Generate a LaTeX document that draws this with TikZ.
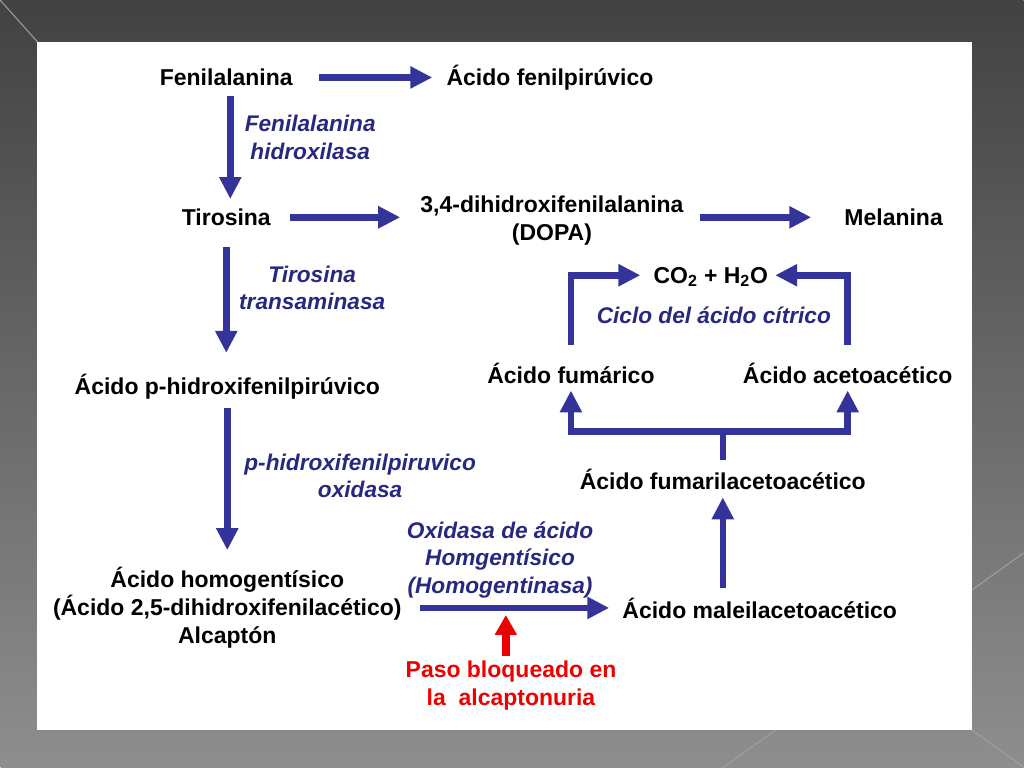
\documentclass[tikz,border=0pt]{standalone}
\usepackage{fontspec}
\setmainfont{Liberation Sans}
\usepackage{tikz}
\usetikzlibrary{arrows.meta}
\definecolor{azulFlecha}{RGB}{51,51,153}
\definecolor{azulTexto}{RGB}{40,40,128}
\definecolor{rojoPaso}{RGB}{236,0,0}
\definecolor{fondoArriba}{RGB}{66,66,66}
\definecolor{fondoAbajo}{RGB}{142,142,142}
\definecolor{rayaFondo}{RGB}{160,160,160}

\begin{document}
\begin{tikzpicture}[x=0.75pt,y=0.75pt,yscale=-1,xscale=1,
    quimico/.style={inner sep=0pt,align=center,font=\fontsize{17.25}{21}\selectfont\bfseries},
    linea/.style={inner sep=0pt,font=\fontsize{17.25}{21}\selectfont\bfseries,text height=16pt,text depth=3.6pt},
    enzima/.style={inner sep=0pt,align=center,text=azulTexto,font=\fontsize{17}{20.5}\selectfont\bfseries\itshape},
    flecha/.style={draw=azulFlecha,line width=4.9pt,-{Triangle[length=16.5pt,width=15.75pt]}},
    bloqueo/.style={draw=rojoPaso,line width=5.5pt,-{Triangle[length=15pt,width=15.75pt]}}]

%Shape: Rectangle (fondo)
\shade [top color=fondoArriba,bottom color=fondoAbajo] (0,0) rectangle (1024,768);
%Straight Lines (rayas del fondo)
\draw [rayaFondo,line width=0.75] (0,0) -- (50,56);
\draw [rayaFondo,line width=0.75] (960,599) -- (1024,553);
\draw [rayaFondo,line width=0.75] (783,725) -- (723,768);
\draw [rayaFondo,line width=0.75] (965,725) -- (1024,767);
%Shape: Rectangle (hoja)
\fill [white] (37,42) rectangle (972,730);

% Text Node
\draw (226,77) node [linea] (fen) {Fenilalanina};
% Text Node
\draw (550,77) node [linea] (afp) {Ácido fenilpirúvico};
% Text Node
\draw (310,137) node [enzima] (fhid) {Fenilalanina\\hidroxilasa};
% Text Node
\draw (226,217) node [linea] (tir) {Tirosina};
% Text Node
\draw (552,220) node [quimico] (dopa) {3,4-dihidroxifenilalanina\\(DOPA)};
% Text Node
\draw (894,217) node [linea] (mel) {Melanina};
% Text Node
\draw (312,288) node [enzima] (ttra) {Tirosina\\transaminasa};
% Text Node
\draw (227,386) node [linea] (php) {Ácido p-hidroxifenilpirúvico};
% Text Node
\draw (360,476) node [enzima] (phox) {p-hidroxifenilpiruvico\\oxidasa};
% Text Node
\draw (227,608) node [quimico] (homog) {Ácido homogentísico\\(Ácido 2,5-dihidroxifenilacético)\\Alcaptón};
% Text Node
\draw (500,560) node [enzima] (oxh) {Oxidasa de ácido\\Homgentísico\\(Homogentinasa)};
% Text Node
\draw (760,610) node [linea] (malei) {Ácido maleilacetoacético};
% Text Node
\draw (511,686) node [quimico,text=rojoPaso] (paso) {Paso bloqueado en\\la\ \ alcaptonuria};
% Text Node
\draw (723,481) node [linea] (fumaril) {Ácido fumarilacetoacético};
% Text Node
\draw (571,375) node [linea] (fum) {Ácido fumárico};
% Text Node
\draw (848,375) node [linea] (aceto) {Ácido acetoacético};
% Text Node
\draw (711,275) node [linea] (co2) {CO\textsubscript{2} + H\textsubscript{2}O};
% Text Node
\draw (714,315) node [enzima] (ciclo) {Ciclo del ácido cítrico};

%Straight Lines
\draw [flecha,shorten <=19.5pt,shorten >=10.5pt] (fen.east) -- (fen.east -| afp.west);
%Straight Lines
\draw [flecha,shorten <=3.75pt,shorten >=3.75pt] ([xshift=3pt]fen.south) -- ([xshift=3pt]fen.south |- tir.north);
%Straight Lines
\draw [flecha,shorten <=14.25pt,shorten >=15pt] (tir.east) -- (tir.east -| dopa.west);
%Straight Lines
\draw [flecha,shorten <=12pt,shorten >=24.75pt] (dopa.east |- mel.west) -- (mel.west);
%Straight Lines
\draw [flecha,shorten <=12pt,shorten >=15pt] (tir.south) -- (tir.south |- php.north);
%Straight Lines
\draw [flecha,shorten <=6.75pt,shorten >=12.75pt] (php.south) -- (php.south |- homog.north);
%Straight Lines
\draw [flecha,shorten <=13.5pt,shorten >=9.75pt] (homog.east) -- coordinate[pos=0.472] (corte) (homog.east -| malei.west);
%Straight Lines
\draw [bloqueo,shorten <=3.4pt,shorten >=5.25pt] (paso.north -| corte) -- (corte);
%Straight Lines
\draw [flecha,shorten <=6.75pt,shorten >=2.25pt] (malei.north -| fumaril.south) -- (fumaril.south);
%Straight Lines
\draw [flecha,shorten <=6pt,shorten >=1.5pt] (fumaril.north) -- ++(0,-36) -| (fum.south);
\draw [flecha,shorten <=6pt,shorten >=1.5pt] (fumaril.north) -- ++(0,-36) -| (aceto.south);
%Straight Lines
\draw [flecha,shorten <=12.75pt,shorten >=9.75pt] (fum.north) |- (co2.west);
\draw [flecha,shorten <=12.75pt,shorten >=5.25pt] (aceto.north) |- (co2.east);

\end{tikzpicture}
\end{document}
